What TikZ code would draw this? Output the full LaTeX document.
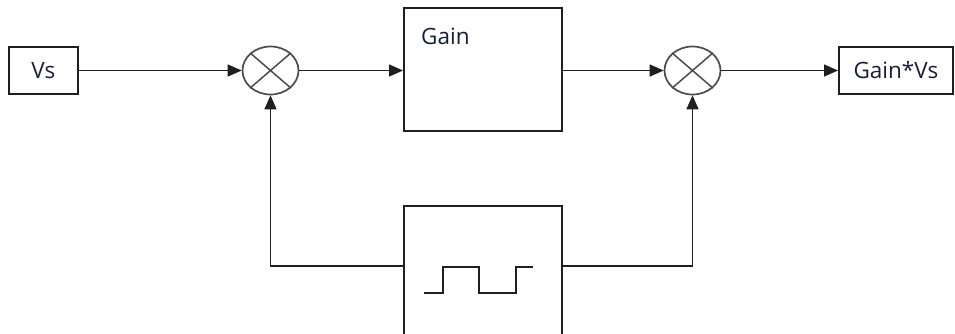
\documentclass[tikz,border=0pt]{standalone}
\usepackage{fontspec}
\setmainfont{Open Sans}
\usetikzlibrary{arrows.meta,shapes.geometric,calc}
\definecolor{inkline}{HTML}{1F1F1F}
\definecolor{inktext}{HTML}{1A1E33}
\tikzset{
  blk/.style={draw=inkline, line width=1.7pt, inner sep=0pt, anchor=north west},
  summer/.style={draw=inkline!80, line width=1.7pt, ellipse, inner sep=0pt,
                 minimum width=56pt, minimum height=48pt},
  wire/.style={draw=inkline, line width=1.5pt},
  feed/.style={wire, -{Triangle[length=14pt,width=12pt]}},
  lbl/.style={text=inktext, font=\fontsize{22.5}{26}\selectfont},
}
\begin{document}
\begin{tikzpicture}[x=1pt,y=-1pt]
  \useasboundingbox (0,0) rectangle (955,333);
  \clip (0,0) rectangle (955,333);
  % input and output blocks
  \node[blk, minimum width=69pt, minimum height=47pt] (vs) at (8,46) {};
  \node[lbl] (vstext) at (vs.center) {Vs};
  \node[blk, minimum width=114pt, minimum height=47pt] (out) at (838,46) {};
  \node[lbl] (outtext) at (out.center) {Gain*Vs};
  % gain block
  \node[blk, minimum width=158pt, minimum height=123pt] (gain) at (403,7) {};
  \node[lbl, anchor=base west, inner sep=0pt] (gaintext) at (421,44) {Gain};
  % square-wave source, running off the bottom edge
  \node[blk, minimum width=158pt, minimum height=160pt] (wave) at (403,205) {};
  \draw[wire, line width=1.6pt, line join=miter]
    ($(wave.north west)+(21,88)$) -- ++(19,0) -- ++(0,-26) -- ++(36,0)
    -- ++(0,26) -- ++(37,0) -- ++(0,-26) -- ++(17,0);
  % summing junctions
  \node[summer] (s1) at (270.5,70.5) {};
  \draw[line width=1.5pt, draw=inkline!80] (s1.north west) -- (s1.south east)
    (s1.north east) -- (s1.south west);
  \node[summer] (s2) at (692.5,70.5) {};
  \draw[line width=1.5pt, draw=inkline!80] (s2.north west) -- (s2.south east)
    (s2.north east) -- (s2.south west);
  % forward path
  \draw[feed] (vs.east |- s1.west) -- (s1.west);
  \draw[feed] (s1.east) -- (s1.east -| gain.west);
  \draw[feed] (s1.east -| gain.east) -- (s2.west);
  \draw[feed] (s2.east) -- (s2.east -| out.west);
  % feedback from the square-wave source
  \draw[feed] ([yshift=-61pt]wave.north west) -| (s1.south);
  \draw[feed] ([yshift=-61pt]wave.north east) -| (s2.south);
\end{tikzpicture}
\end{document}
